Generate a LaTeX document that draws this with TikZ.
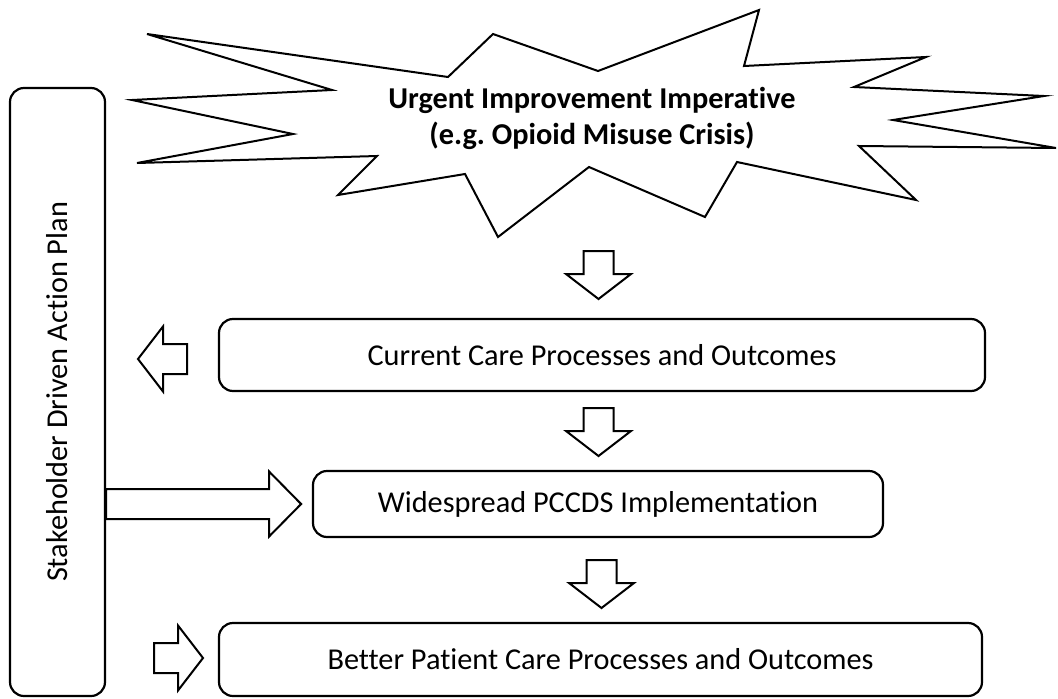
\documentclass[tikz,border=0pt]{standalone}
\usepackage{fontspec}
\setmainfont{Carlito}[Ligatures=NoCommon]
\usepackage{tikz}
\usetikzlibrary{calc}
\def\blockarrow[#1](#2)(#3:#4:#5){\draw[#1,shift={(#2)},rotate=#3] (0,-15) -- ({#4-#5},-15) -- ({#4-#5},-32.5) -- (#4,0) -- ({#4-#5},32.5) -- ({#4-#5},15) -- (0,15) -- cycle;}
\tikzset{
	box/.style={draw, line width=2.2pt, rounded corners=14pt, inner sep=0pt, font=\fontsize{30.3}{36}\selectfont},
	arrowline/.style={line width=2pt, line join=miter}
}

\begin{document}
\begin{tikzpicture}[x=1pt, y=-1pt]
			%%%%% START %%%%%
			\useasboundingbox (0, 0) rectangle (1058, 699);
			
			% starburst
			\draw[line width=2pt, line join=miter] (147, 34) -- (448, 77) -- (493, 34) -- (598, 71) -- (759, 10) -- (744, 66) -- (926, 57) -- (854, 87) -- (1044, 96) -- (893, 120) -- (1056, 148) -- (859, 146) -- (916, 200) -- (737, 162) -- (705, 217) -- (589, 167) -- (498, 237) -- (465, 174) -- (338, 195) -- (377, 156) -- (137, 163) -- (293, 134) -- (132, 100) -- (332, 90) -- cycle;
			\node[align=center, font=\fontsize{30.3}{36}\selectfont\bfseries] (urgent) at (592, 118) {Urgent Improvement Imperative\\(e.g.\ Opioid Misuse Crisis)};
			
			% boxes
			\node[box, rotate=90, minimum width=608, minimum height=95] (stake) at (57.5, 392) {Stakeholder Driven Action Plan};
			\node[box, minimum width=766, minimum height=72] (current) at (602, 355) {Current Care Processes and Outcomes};
			\node[box, minimum width=570, minimum height=66] (wide) at (598, 504) {Widespread PCCDS Implementation};
			\node[box, minimum width=763, minimum height=73] (better) at (600.5, 659.5) {Better Patient Care Processes and Outcomes};
			
			% block arrows
			\blockarrow[arrowline](598.5, 251)(-90:48:25);
			\blockarrow[arrowline](598.5, 408)(-90:48:25);
			\blockarrow[arrowline](601.5, 560)(-90:48:25);
			\blockarrow[arrowline](187, 359)(180:49:25);
			\blockarrow[arrowline](stake.south |- 0, 504)(0:195:32);
			\blockarrow[arrowline](154, 658)(0:49:25);
			
			%%%%% END %%%%%
		\end{tikzpicture}
\end{document}
